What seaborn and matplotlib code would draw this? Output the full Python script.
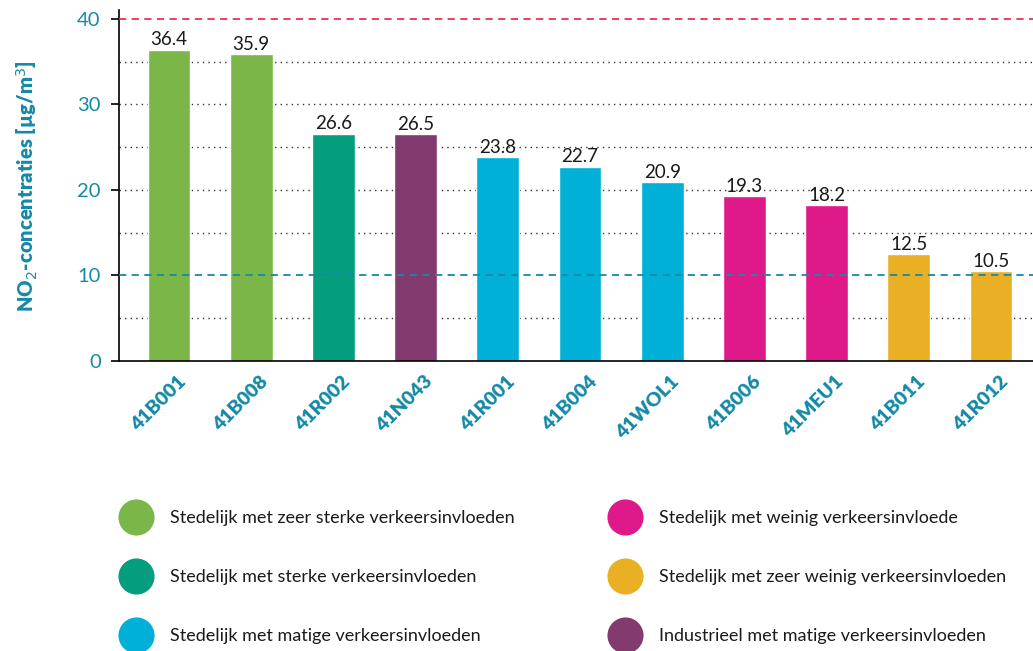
import matplotlib
matplotlib.use('Agg')
import matplotlib.pyplot as plt
import matplotlib.transforms as mtransforms
from matplotlib.lines import Line2D
import seaborn as sns
import pandas as pd

stations = ['41B001', '41B008', '41R002', '41N043', '41R001', '41B004',
            '41WOL1', '41B006', '41MEU1', '41B011', '41R012']
no2 = [36.4, 35.9, 26.6, 26.5, 23.8, 22.7, 20.9, 19.3, 18.2, 12.5, 10.5]
groups = ['zeer sterk', 'zeer sterk', 'sterk', 'industrieel', 'matig', 'matig',
          'matig', 'weinig', 'weinig', 'zeer weinig', 'zeer weinig']

legend_keys = ['zeer sterk', 'sterk', 'matig', 'weinig', 'zeer weinig', 'industrieel']
legend_labels = ['Stedelijk met zeer sterke verkeersinvloeden',
                 'Stedelijk met sterke verkeersinvloeden',
                 'Stedelijk met matige verkeersinvloeden',
                 'Stedelijk met weinig verkeersinvloede',
                 'Stedelijk met zeer weinig verkeersinvloeden',
                 'Industrieel met matige verkeersinvloeden']
colors = {'zeer sterk': '#7AB648', 'sterk': '#049E7E', 'matig': '#00B0D6',
          'weinig': '#E0198A', 'zeer weinig': '#E9AF25', 'industrieel': '#833A6E'}

teal = '#1589A6'

sns.set_style('white')
plt.rcParams['font.family'] = ['Lato', 'DejaVu Sans']

df = pd.DataFrame({'station': stations, 'no2': no2, 'group': groups})

fig = plt.figure(figsize=(10.33, 6.51), dpi=100)
ax = fig.add_axes([0.115, 0.4455, 0.885, 0.5385])

sns.barplot(data=df, x='station', y='no2', hue='group', palette=colors,
            dodge=False, width=0.52, saturation=1, legend=False, ax=ax)

for c in ax.containers:
    ax.bar_label(c, fmt='%.1f', padding=1, fontsize=13.5, color='#1a1a1a')

ax.set_xlim(-0.61, 10.51)
ax.set_ylim(0, 41)
ax.set_yticks([0, 10, 20, 30, 40])
for y in [5, 15, 20, 25, 30, 35]:
    ax.axhline(y, color='#333333', linestyle=(0, (1, 3)), linewidth=1, zorder=0)
ax.axhline(40, color='#E8344E', linestyle=(0, (4, 3)), linewidth=1.3, zorder=3)
ax.axhline(10, color='#1589A6', linestyle=(0, (4, 3)), linewidth=1.3, zorder=3)

sns.despine(ax=ax, top=True, right=True)
ax.spines['left'].set_color('black')
ax.spines['bottom'].set_color('black')
ax.spines['left'].set_linewidth(1.2)
ax.spines['bottom'].set_linewidth(1.2)
ax.tick_params(axis='y', left=True, length=6, width=1.2, colors='black',
               labelcolor=teal, labelsize=14.5, pad=7)
ax.tick_params(axis='x', bottom=False, labelcolor=teal, pad=5)
shift = mtransforms.ScaledTranslation(8 / 100, 0, fig.dpi_scale_trans)
for lbl in ax.get_xticklabels():
    lbl.set_rotation(45)
    lbl.set_ha('right')
    lbl.set_rotation_mode('anchor')
    lbl.set_fontweight('heavy')
    lbl.set_fontsize(14)
    lbl.set_transform(lbl.get_transform() + shift)

ax.set_xlabel('')
ax.set_ylabel('NO$_2$-concentraties [µg/m$^3$]', color=teal, fontweight='heavy',
              fontsize=14.5, labelpad=27)

handles = [Line2D([0], [0], marker='o', linestyle='', markersize=26,
                  markerfacecolor=colors[k], markeredgecolor='none')
           for k in legend_keys]
fig.legend(handles, legend_labels, ncol=2, frameon=False, loc='upper left',
           bbox_to_anchor=(0.098, 0.241), fontsize=13, labelspacing=2.375,
           handletextpad=0.9, columnspacing=5.1, labelcolor='#1a1a1a')

fig.savefig('out.png', dpi=100)
